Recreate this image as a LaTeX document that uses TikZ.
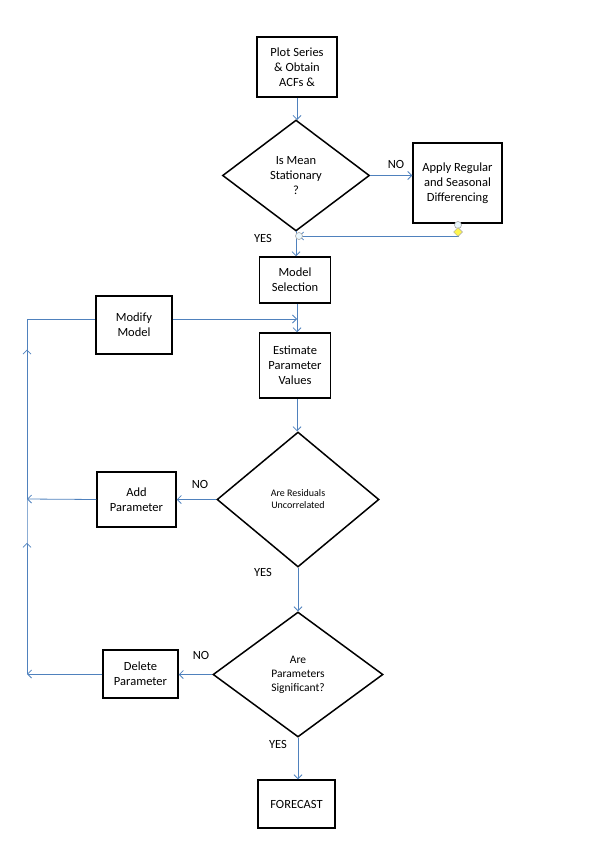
\documentclass[tikz,border=0pt]{standalone}
\usepackage{fontspec}
\setmainfont{Carlito}
\usepackage{tikz}
\usetikzlibrary{arrows.meta, positioning, shapes.geometric, calc}

\begin{document}
\begin{tikzpicture}[
  x=1pt, y=-1pt,
  stepbox/.style = {draw, line width=1.5pt, rectangle, align=center, inner sep=1pt},
  decision/.style = {draw, line width=1.5pt, diamond, align=center, inner sep=0pt},
  link/.style = {draw=linkblue, line width=0.8pt},
  arrow/.style = {link, -{Straight Barb[length=4pt, width=8pt]}},
  handle/.style = {circle, draw=gray!70, fill=cyan!8, line width=0.6pt, minimum size=7pt, inner sep=0pt},
  every node/.style = {font=\fontsize{12.5}{15}\selectfont}
]
\definecolor{linkblue}{RGB}{79,129,189}
\useasboundingbox (0,0) rectangle (596,845);

% Main column
\node[stepbox, minimum width=80, minimum height=60] (plot) at (297,67) {Plot Series\\\& Obtain\\ACFs \&};
\node[decision, minimum width=147, minimum height=111] (mean) at (296,175.5) {Is Mean\\Stationary\\?};
\node[stepbox, minimum width=89, minimum height=80] (apply) at (457.5,183) {Apply Regular\\and Seasonal\\Differencing};
\node[stepbox, minimum width=71, minimum height=46] (select) at (295,280) {Model\\Selection};
\node[stepbox, minimum width=71, minimum height=65] (estimate) at (295,365.5) {Estimate\\Parameter\\Values};
\node[decision, minimum width=162, minimum height=135, font=\fontsize{10}{12}\selectfont] (resid) at (298,499.5) {Are Residuals\\Uncorrelated};
\node[decision, minimum width=170, minimum height=125, font=\fontsize{11.5}{14}\selectfont] (signif) at (298,674.5) {Are\\Parameters\\Significant?};
\node[stepbox, minimum width=77, minimum height=48] (forecast) at (296.5,804) {FORECAST};

% Side boxes
\node[stepbox, minimum width=76, minimum height=58] (modify) at (134,325) {Modify\\Model};
\node[stepbox, minimum width=79, minimum height=55] (add) at (136.5,499.5) {Add\\Parameter};
\node[stepbox, minimum width=75, minimum height=48] (delete) at (140.5,674) {Delete\\Parameter};

% Coordinates
\coordinate (join) at (299,236);
\coordinate (loopM) at (27,319);
\coordinate (loopA) at (27,499);
\coordinate (loopD) at (27,674);

% Main flow
\draw[arrow] (plot.south -| 297,0) -- (297,120);
\draw[arrow] (mean.east) -- (apply.west |- mean.east);
\draw[arrow] (apply.south -| 458,0) |- (join);
\draw[arrow] (296,231) -- (select.north -| 296,0);
\draw[arrow] (select.south -| 297,0) -- (estimate.north -| 297,0);
\draw[arrow] (estimate.south -| 297,0) -- (resid.north -| 297,0);
\draw[arrow] (resid.south) -- (signif.north);
\draw[arrow] (signif.south) -- (forecast.north -| 298,0);
\draw[arrow] (resid.west) -- (add.east |- resid.west);
\draw[arrow] (signif.west) -- (delete.east |- signif.west);

% Loop back on the left
\draw[arrow] (delete.west) -- (loopD);
\draw[arrow] (add.west) -- (loopA);
\draw[link] (loopD) -- (loopA) -- (loopM) -- (modify.west |- loopM);
\draw[arrow] (loopD) -- ($(loopD)!0.75!(loopA)$);
\draw[arrow] (loopA) -- ($(loopA)!0.83!(loopM)$);
\draw[arrow] (modify.east |- loopM) -- (297,319);

% Connector handles
\node[handle] (h1) at (join) {};
\node[handle] (h2) at (458,225) {};
\node[diamond, draw=gray!70, fill=yellow!70, line width=0.5pt, minimum size=9pt, inner sep=0pt] (h3) at (458,232) {};

% Labels
\node (no1) at (396,164) {NO};
\node (yes1) at (263,238) {YES};
\node (no2) at (200,484) {NO};
\node (yes2) at (263,572) {YES};
\node (no3) at (201,655) {NO};
\node (yes3) at (278,744) {YES};

\end{tikzpicture}
\end{document}
